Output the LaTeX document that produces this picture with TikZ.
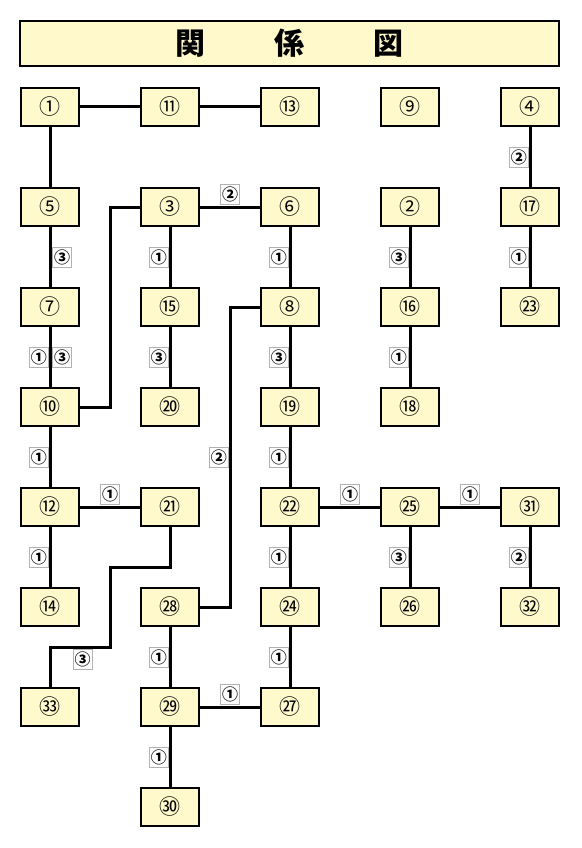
\documentclass[tikz,border=0pt]{standalone}
\usepackage{fontspec}
\newfontfamily\jfont{Noto Sans CJK JP}
\definecolor{boxfill}{RGB}{255,249,204}
\tikzset{
  box/.style={draw, line width=2.4pt, fill=boxfill, minimum width=58pt, minimum height=38pt, inner sep=0pt, font=\jfont\fontsize{21}{21}\selectfont},
  lab/.style={draw=black!30, line width=0.8pt, fill=white, minimum width=19pt, minimum height=20pt, inner sep=0pt, font=\jfont\bfseries\fontsize{16}{16}\selectfont},
  link/.style={line width=3pt},
}
\begin{document}
\begin{tikzpicture}[x=1pt,y=-1pt]
			\useasboundingbox (0,0) rectangle (581,848);
			\node[draw, line width=2.4pt, fill=boxfill, minimum width=539pt, minimum height=45pt, inner sep=0pt, font=\jfont\bfseries\fontsize{30}{30}\selectfont] (title) at (289.5,43.5) {関\hspace{69pt}係\hspace{69pt}図};
			% row 1
			\node[box] (n1) at (50,107) {①};
			\node[box] (n11) at (170,107) {⑪};
			\node[box] (n13) at (290,107) {⑬};
			\node[box] (n9) at (410,107) {⑨};
			\node[box] (n4) at (530,107) {④};
			% row 2
			\node[box] (n5) at (50,207) {⑤};
			\node[box] (n3) at (170,207) {③};
			\node[box] (n6) at (290,207) {⑥};
			\node[box] (n2) at (410,207) {②};
			\node[box] (n17) at (530,207) {⑰};
			% row 3
			\node[box] (n7) at (50,307) {⑦};
			\node[box] (n15) at (170,307) {⑮};
			\node[box] (n8) at (290,307) {⑧};
			\node[box] (n16) at (410,307) {⑯};
			\node[box] (n23) at (530,307) {㉓};
			% row 4
			\node[box] (n10) at (50,407) {⑩};
			\node[box] (n20) at (170,407) {⑳};
			\node[box] (n19) at (290,407) {⑲};
			\node[box] (n18) at (410,407) {⑱};
			% row 5
			\node[box] (n12) at (50,507) {⑫};
			\node[box] (n21) at (170,507) {㉑};
			\node[box] (n22) at (290,507) {㉒};
			\node[box] (n25) at (410,507) {㉕};
			\node[box] (n31) at (530,507) {㉛};
			% row 6
			\node[box] (n14) at (50,607) {⑭};
			\node[box] (n28) at (170,607) {㉘};
			\node[box] (n24) at (290,607) {㉔};
			\node[box] (n26) at (410,607) {㉖};
			\node[box] (n32) at (530,607) {㉜};
			% row 7 and 8
			\node[box] (n33) at (50,707) {㉝};
			\node[box] (n29) at (170,707) {㉙};
			\node[box] (n27) at (290,707) {㉗};
			\node[box] (n30) at (170,807) {㉚};
			% bends
			\coordinate (k3) at (110,207);
			\coordinate (k8) at (230,307);
			\coordinate (k28) at (230,607);
			\coordinate (k21) at (170,567);
			\coordinate (k21a) at (110,567);
			\coordinate (k21b) at (110,647);
			\coordinate (k33) at (50,647);
			% links
			\draw[link] (n1) -- (n11);
			\draw[link] (n11) -- (n13);
			\draw[link] (n1) -- (n5);
			\draw[link] (n4) -- node[lab, left=1.3pt] {②} (n17);
			\draw[link] (n5) -- node[lab, right=2.3pt] {③} (n7);
			\draw[link] (n3) -- node[lab, above=2.6pt] {②} (n6);
			\draw[link] (n3) -- (k3) |- (n10);
			\draw[link] (n3) -- node[lab, left=1.3pt] {①} (n15);
			\draw[link] (n6) -- node[lab, left=1.3pt] {①} (n8);
			\draw[link] (n2) -- node[lab, left=1.3pt] {③} (n16);
			\draw[link] (n17) -- node[lab, left=1.3pt] {①} (n23);
			\draw[link] (n7) -- node[lab, left=1.3pt] {①} node[lab, right=2.3pt] {③} (n10);
			\draw[link] (n15) -- node[lab, left=1.3pt] {③} (n20);
			\draw[link] (n8) -- node[lab, left=1.3pt] {③} (n19);
			\draw[link] (n16) -- node[lab, left=1.3pt] {①} (n18);
			\draw[link] (n8) -- (k8) -- node[lab, left=1.3pt] {②} (k28) -- (n28);
			\draw[link] (n10) -- node[lab, left=1.3pt] {①} (n12);
			\draw[link] (n19) -- node[lab, left=1.3pt] {①} (n22);
			\draw[link] (n12) -- node[lab, above=2.6pt] {①} (n21);
			\draw[link] (n22) -- node[lab, above=2.6pt] {①} (n25);
			\draw[link] (n25) -- node[lab, above=2.6pt] {①} (n31);
			\draw[link] (n12) -- node[lab, left=1.3pt] {①} (n14);
			\draw[link] (n21) -- (k21) -- (k21a) -- (k21b) -- node[lab, below=1.9pt, xshift=2.5pt] {③} (k33) -- (n33);
			\draw[link] (n22) -- node[lab, left=1.3pt] {①} (n24);
			\draw[link] (n25) -- node[lab, left=1.3pt] {③} (n26);
			\draw[link] (n31) -- node[lab, left=1.3pt] {②} (n32);
			\draw[link] (n28) -- node[lab, left=1.3pt] {①} (n29);
			\draw[link] (n24) -- node[lab, left=1.3pt] {①} (n27);
			\draw[link] (n29) -- node[lab, above=2.6pt] {①} (n27);
			\draw[link] (n29) -- node[lab, left=1.3pt] {①} (n30);
		\end{tikzpicture}
\end{document}
